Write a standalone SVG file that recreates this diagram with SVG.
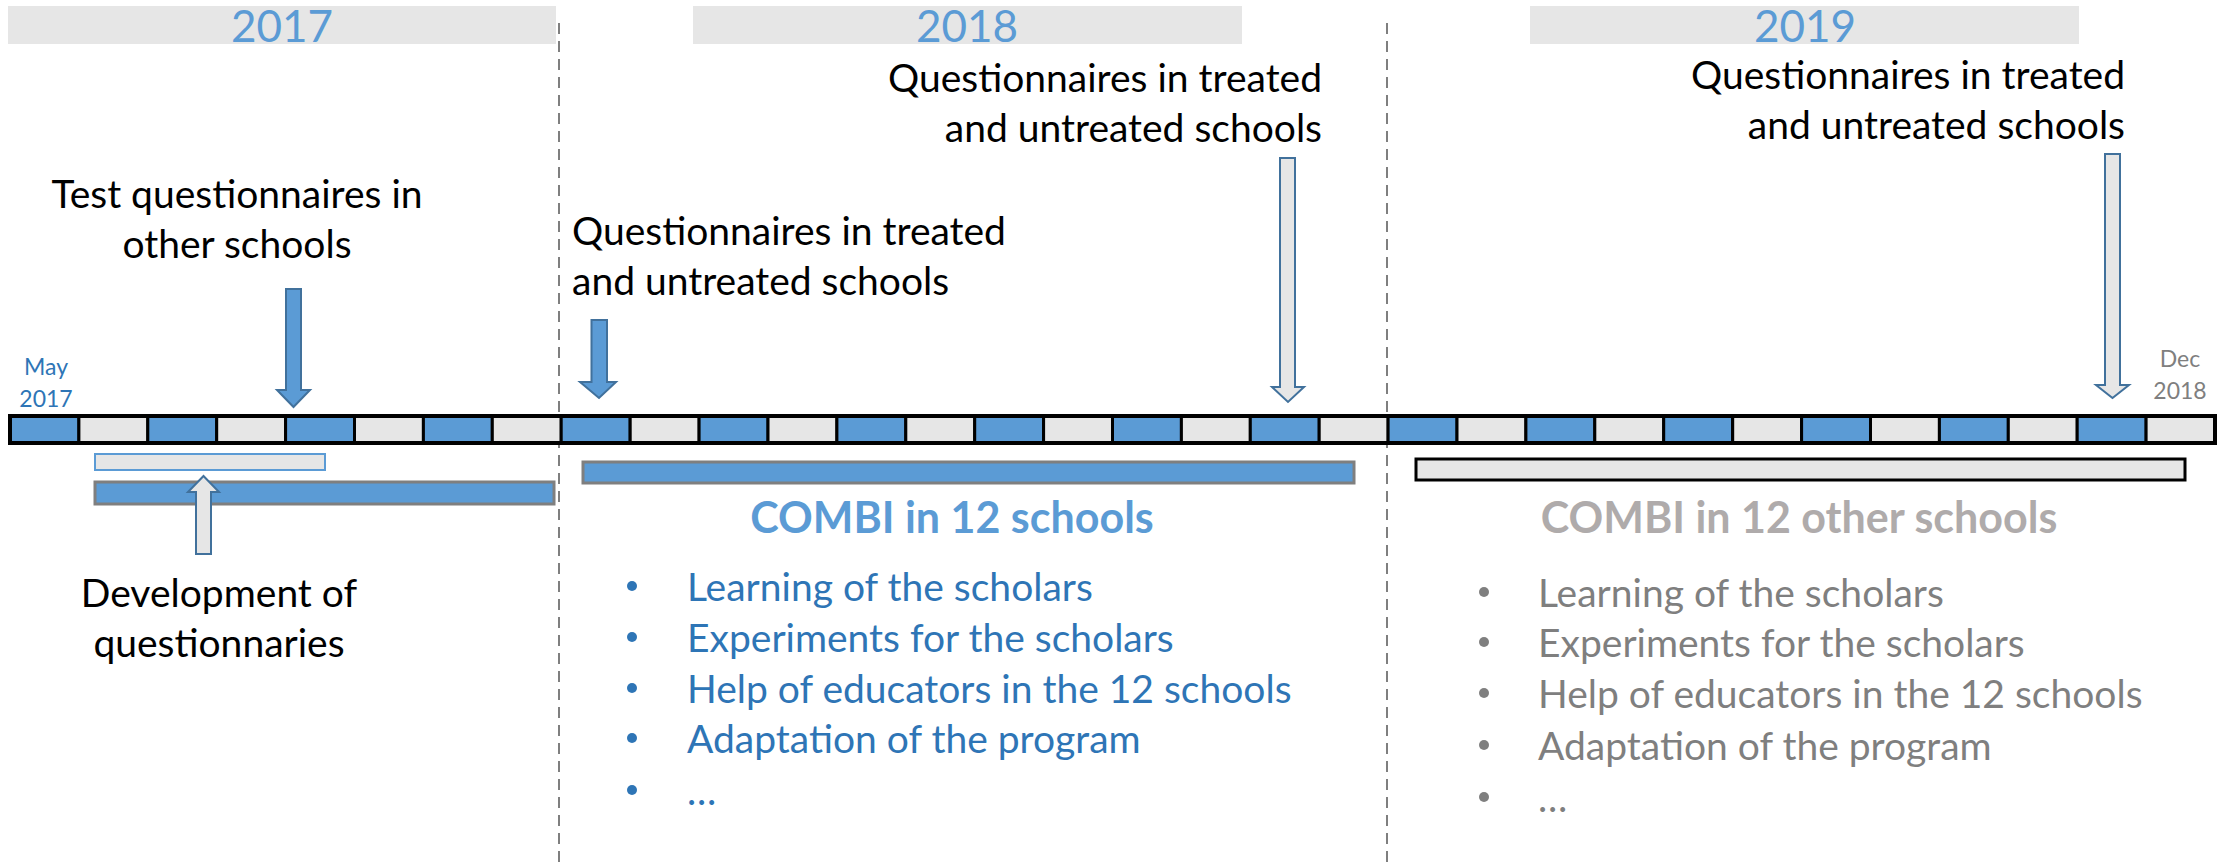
<svg xmlns="http://www.w3.org/2000/svg" width="2226" height="867" viewBox="0 0 2226 867">
<style>
  .hdr{fill:#E6E6E6}
  .yr{font-family:Lato,"Liberation Sans",sans-serif;font-size:44px;fill:#5B9BD5;text-anchor:middle}
  .lbl{font-family:Lato,"Liberation Sans",sans-serif;font-size:39px;fill:#000}
  .sm{font-family:Lato,"Liberation Sans",sans-serif;font-size:23px;text-anchor:middle}
  .b{fill:#5B9BD5;stroke:#000;stroke-width:3}
  .g{fill:#E6E6E6;stroke:#000;stroke-width:3}
  .dash{stroke:#7F7F7F;stroke-width:2;stroke-dasharray:11 7;fill:none}
  .arB{fill:#5B9BD5;stroke:#41719C;stroke-width:2}
  .arL{fill:#E6E6E6;stroke:#41719C;stroke-width:2}
  .combi{font-family:Lato,"Liberation Sans",sans-serif;font-size:43px;font-weight:bold;text-anchor:middle}
  .li{font-family:Lato,"Liberation Sans",sans-serif;font-size:39px}
</style>
<rect width="2226" height="867" fill="#fff"/>
<g id="year-headers">
  <rect class="hdr" x="8" y="6" width="548" height="38"/>
  <text class="yr" x="282" y="42">2017</text>
  <rect class="hdr" x="693" y="6" width="549" height="38"/>
  <text class="yr" x="967" y="42">2018</text>
  <rect class="hdr" x="1530" y="6" width="549" height="38"/>
  <text class="yr" x="1805" y="42">2019</text>
</g>
<g id="separators">
  <line class="dash" x1="559" y1="23" x2="559" y2="867"/>
  <line class="dash" x1="1387" y1="23" x2="1387" y2="867"/>
</g>
<g id="timeline">
  <rect class="b" x="10" y="416" width="68.9" height="27"/>
  <rect class="g" x="78.9" y="416" width="68.9" height="27"/>
  <rect class="b" x="147.8" y="416" width="68.9" height="27"/>
  <rect class="g" x="216.7" y="416" width="68.9" height="27"/>
  <rect class="b" x="285.6" y="416" width="68.9" height="27"/>
  <rect class="g" x="354.5" y="416" width="68.9" height="27"/>
  <rect class="b" x="423.4" y="416" width="68.9" height="27"/>
  <rect class="g" x="492.3" y="416" width="68.9" height="27"/>
  <rect class="b" x="561.2" y="416" width="68.9" height="27"/>
  <rect class="g" x="630.2" y="416" width="68.9" height="27"/>
  <rect class="b" x="699.1" y="416" width="68.9" height="27"/>
  <rect class="g" x="768.0" y="416" width="68.9" height="27"/>
  <rect class="b" x="836.9" y="416" width="68.9" height="27"/>
  <rect class="g" x="905.8" y="416" width="68.9" height="27"/>
  <rect class="b" x="974.7" y="416" width="68.9" height="27"/>
  <rect class="g" x="1043.6" y="416" width="68.9" height="27"/>
  <rect class="b" x="1112.5" y="416" width="68.9" height="27"/>
  <rect class="g" x="1181.4" y="416" width="68.9" height="27"/>
  <rect class="b" x="1250.3" y="416" width="68.9" height="27"/>
  <rect class="g" x="1319.2" y="416" width="68.9" height="27"/>
  <rect class="b" x="1388.1" y="416" width="68.9" height="27"/>
  <rect class="g" x="1457.0" y="416" width="68.9" height="27"/>
  <rect class="b" x="1525.9" y="416" width="68.9" height="27"/>
  <rect class="g" x="1594.8" y="416" width="68.9" height="27"/>
  <rect class="b" x="1663.7" y="416" width="68.9" height="27"/>
  <rect class="g" x="1732.7" y="416" width="68.9" height="27"/>
  <rect class="b" x="1801.6" y="416" width="68.9" height="27"/>
  <rect class="g" x="1870.5" y="416" width="68.9" height="27"/>
  <rect class="b" x="1939.4" y="416" width="68.9" height="27"/>
  <rect class="g" x="2008.3" y="416" width="68.9" height="27"/>
  <rect class="b" x="2077.2" y="416" width="68.9" height="27"/>
  <rect class="g" x="2146.1" y="416" width="68.9" height="27"/>
  <rect x="10" y="416" width="2205" height="27" fill="none" stroke="#000" stroke-width="4"/>
</g>
<g id="start-label">
  <text class="sm" fill="#2E75B6" x="46" y="375">May</text>
  <text class="sm" fill="#2E75B6" x="46" y="407">2017</text>
</g>
<g id="end-label">
  <text class="sm" fill="#7F7F7F" x="2180" y="367">Dec</text>
  <text class="sm" fill="#7F7F7F" x="2180" y="399">2018</text>
</g>
<g id="test-questionnaires">
  <text class="lbl" text-anchor="middle" x="237" y="208">Test questionnaires in</text>
  <text class="lbl" text-anchor="middle" x="237" y="258">other schools</text>
  <rect x="95" y="454" width="230" height="16" fill="#E6E6E6" stroke="#5B9BD5" stroke-width="2"/>
</g>
<g id="development">
  <rect x="95" y="482" width="459" height="22" fill="#5B9BD5" stroke="#7F7F7F" stroke-width="3"/>
  <text class="lbl" text-anchor="middle" x="219" y="607">Development of</text>
  <text class="lbl" text-anchor="middle" x="219" y="657">questionnaries</text>
</g>
<g id="q2018-start">
  <text class="lbl" x="572" y="245">Questionnaires in treated</text>
  <text class="lbl" x="572" y="295">and untreated schools</text>
</g>
<g id="q2018-end">
  <text class="lbl" text-anchor="end" x="1322" y="92">Questionnaires in treated</text>
  <text class="lbl" text-anchor="end" x="1322" y="142">and untreated schools</text>
</g>
<g id="q2019-end">
  <text class="lbl" text-anchor="end" x="2125" y="89">Questionnaires in treated</text>
  <text class="lbl" text-anchor="end" x="2125" y="139">and untreated schools</text>
</g>
<g id="combi-12">
  <rect x="583" y="462" width="771" height="21" fill="#5B9BD5" stroke="#7F7F7F" stroke-width="3"/>
  <text class="combi" fill="#5B9BD5" x="952" y="533">COMBI in 12 schools</text>
  <g class="li" fill="#2E75B6">
    <circle cx="632" cy="586" r="5"/><text x="687" y="601">Learning of the scholars</text>
    <circle cx="632" cy="637" r="5"/><text x="687" y="652">Experiments for the scholars</text>
    <circle cx="632" cy="688" r="5"/><text x="687" y="703">Help of educators in the 12 schools</text>
    <circle cx="632" cy="738" r="5"/><text x="687" y="753">Adaptation of the program</text>
    <circle cx="632" cy="790" r="5"/><text x="687" y="805">…</text>
  </g>
</g>
<g id="combi-12-other">
  <rect x="1416" y="459" width="769" height="21" fill="#E6E6E6" stroke="#000" stroke-width="3"/>
  <text class="combi" fill="#AFABAB" x="1799" y="533">COMBI in 12 other schools</text>
  <g class="li" fill="#7F7F7F">
    <circle cx="1484" cy="592" r="5"/><text x="1538" y="607">Learning of the scholars</text>
    <circle cx="1484" cy="642" r="5"/><text x="1538" y="657">Experiments for the scholars</text>
    <circle cx="1484" cy="693" r="5"/><text x="1538" y="708">Help of educators in the 12 schools</text>
    <circle cx="1484" cy="745" r="5"/><text x="1538" y="760">Adaptation of the program</text>
    <circle cx="1484" cy="797" r="5"/><text x="1538" y="812">…</text>
  </g>
</g>
<g id="connectors">
  <path class="arB" d="M286,289 H301 V390 H310 L293.5,407 L277,390 H286 Z"/>
  <path class="arB" d="M591.5,320 H607 V382 H616 L599,398 L580,382 H591.5 Z"/>
  <path class="arL" d="M196,554 V492 H188 L203.5,476 L219,492 H211 V554 Z"/>
  <path class="arL" d="M1280,158 H1295 V387 H1304 L1288,402 L1272,387 H1280 Z"/>
  <path class="arL" d="M2105,154 H2120 V385 H2129 L2112.5,398 L2096,385 H2105 Z"/>
</g>
</svg>
